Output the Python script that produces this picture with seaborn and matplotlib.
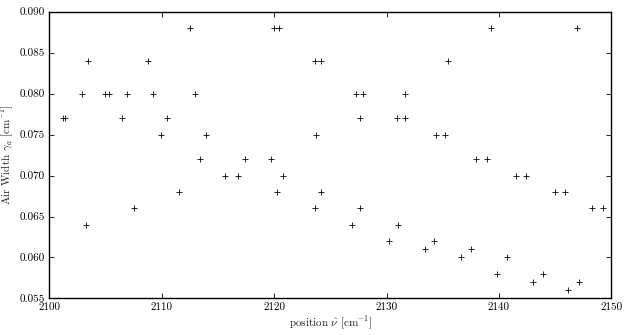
import matplotlib
matplotlib.use("Agg")
import matplotlib.pyplot as plt
import seaborn as sns
import pandas as pd

position = [2101.2, 2101.4, 2102.95, 2103.3, 2103.4, 2104.94, 2105.3, 2106.45, 2106.9, 2107.5,
            2108.75, 2109.2, 2109.94, 2110.44, 2111.5, 2112.5, 2112.95, 2113.4, 2113.9, 2115.6,
            2116.8, 2117.45, 2119.7, 2120.0, 2120.27, 2120.47, 2120.8, 2123.6, 2123.67, 2123.7,
            2124.14, 2124.2, 2126.9, 2127.3, 2127.6, 2127.6, 2127.9, 2130.2, 2130.9, 2131.0,
            2131.6, 2131.6, 2133.45, 2134.25, 2134.4, 2135.2, 2135.5, 2136.6, 2137.5, 2138.0,
            2138.9, 2139.3, 2139.8, 2140.7, 2141.55, 2142.4, 2143.0, 2143.9, 2144.96, 2145.9,
            2146.1, 2146.97, 2147.1, 2148.3, 2149.3]
air_width = [0.077, 0.077, 0.080, 0.064, 0.084, 0.080, 0.080, 0.077, 0.080, 0.066,
             0.084, 0.080, 0.075, 0.077, 0.068, 0.088, 0.080, 0.072, 0.075, 0.070,
             0.070, 0.072, 0.072, 0.088, 0.068, 0.088, 0.070, 0.066, 0.084, 0.075,
             0.084, 0.068, 0.064, 0.080, 0.077, 0.066, 0.080, 0.062, 0.077, 0.064,
             0.077, 0.080, 0.061, 0.062, 0.075, 0.075, 0.084, 0.060, 0.061, 0.072,
             0.072, 0.088, 0.058, 0.060, 0.070, 0.070, 0.057, 0.058, 0.068, 0.068,
             0.056, 0.088, 0.057, 0.066, 0.066]

xticks = [2100, 2110, 2120, 2130, 2140, 2150]
yticks = [0.055, 0.060, 0.065, 0.070, 0.075, 0.080, 0.085, 0.090]

sns.set_style("ticks")
plt.rcParams.update({
    "font.family": "serif",
    "font.serif": ["cmr10"],
    "mathtext.fontset": "cm",
    "axes.formatter.use_mathtext": True,
    "xtick.direction": "in",
    "ytick.direction": "in",
    "xtick.top": True,
    "ytick.right": True,
    "axes.edgecolor": "black",
    "axes.linewidth": 1.0,
    "xtick.color": "black",
    "ytick.color": "black",
    "font.size": 8,
})

df = pd.DataFrame({"position": position, "air_width": air_width})

fig = plt.figure(figsize=(6.28, 3.35), dpi=100)
ax = fig.add_axes([0.0785, 0.109, 0.895, 0.8565])
sns.scatterplot(data=df, x="position", y="air_width", marker="+", color="black",
                s=20, linewidth=0.6, ax=ax, legend=False)
ax.set_xlim(2100, 2150)
ax.set_ylim(0.055, 0.090)
ax.set_xticks(xticks)
ax.set_yticks(yticks)
ax.set_xticklabels([str(t) for t in xticks])
ax.set_yticklabels([f"{t:.3f}" for t in yticks])
ax.tick_params(length=3.5, width=0.6, labelsize=8, pad=3)
ax.set_xlabel(r"position $\hat{\nu}$ [cm$^{-1}$]", fontsize=8, labelpad=2)
ax.set_ylabel(r"Air Width $\gamma_a$ [cm$^{-1}$]", fontsize=8, labelpad=3)
for s in ax.spines.values():
    s.set_visible(True)
    s.set_color("black")
fig.savefig("out.png", dpi=100)
